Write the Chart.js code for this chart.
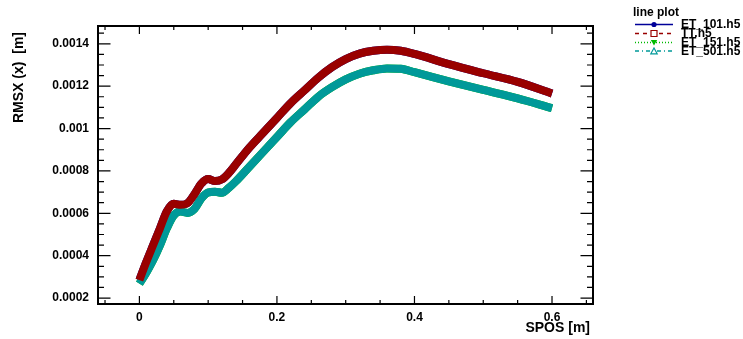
<!DOCTYPE html>
<html>
<head>
<meta charset="utf-8">
<script src="https://cdn.jsdelivr.net/npm/chart.js@4/dist/chart.umd.min.js"></script>
<style>
  html, body { margin: 0; padding: 0; background: #ffffff; }
  #c { display: block; }
</style>
</head>
<body>
<canvas id="c" width="743" height="339"></canvas>
<script>
// ---- data ----
const spos = [0, 0.01, 0.02, 0.03, 0.04, 0.05, 0.06, 0.07, 0.08, 0.09, 0.10, 0.11, 0.12, 0.13, 0.14,
  0.16, 0.18, 0.20, 0.22, 0.24, 0.26, 0.28, 0.30, 0.32, 0.34, 0.36, 0.38, 0.40, 0.45, 0.50, 0.55, 0.60];

const et101 = [0.000285, 0.00037, 0.00045, 0.00053, 0.00061, 0.000645, 0.00064, 0.000648, 0.00069, 0.00074,
  0.000762, 0.000752, 0.00076, 0.00079, 0.00083, 0.00091, 0.00098, 0.00105, 0.00112, 0.00118, 0.00124,
  0.00129, 0.001328, 0.001354, 0.001367, 0.001372, 0.001367, 0.001352, 0.001304, 0.001261, 0.00122, 0.001165];

const tt = [0.000285, 0.00037, 0.00045, 0.00053, 0.00061, 0.000645, 0.00064, 0.000648, 0.00069, 0.00074,
  0.000762, 0.000752, 0.00076, 0.00079, 0.00083, 0.00091, 0.00098, 0.00105, 0.00112, 0.00118, 0.00124,
  0.00129, 0.001328, 0.001354, 0.001367, 0.001372, 0.001367, 0.001352, 0.001304, 0.001261, 0.00122, 0.001165];

const et151 = [0.000268, 0.00032, 0.00038, 0.00045, 0.00053, 0.00059, 0.000608, 0.000602, 0.00062, 0.00067,
  0.000698, 0.000702, 0.000697, 0.00072, 0.00075, 0.00082, 0.00089, 0.00096, 0.00103, 0.00109, 0.00115,
  0.001195, 0.001232, 0.001259, 0.001275, 0.001284, 0.001282, 0.001266, 0.001223, 0.001182, 0.001142, 0.001096];

const et501 = [0.000268, 0.00032, 0.00038, 0.00045, 0.00053, 0.00059, 0.000608, 0.000602, 0.00062, 0.00067,
  0.000698, 0.000702, 0.000697, 0.00072, 0.00075, 0.00082, 0.00089, 0.00096, 0.00103, 0.00109, 0.00115,
  0.001195, 0.001232, 0.001259, 0.001275, 0.001284, 0.001282, 0.001266, 0.001223, 0.001182, 0.001142, 0.001096];

const seriesNames = ['ET_101.h5', 'TT.h5', 'ET_151.h5', 'ET_501.h5'];
const xTickValues = [0, 0.2, 0.4, 0.6];
const xTickLabels = ['0', '0.2', '0.4', '0.6'];
const yTickValues = [0.0002, 0.0004, 0.0006, 0.0008, 0.001, 0.0012, 0.0014];
const yTickLabels = ['0.0002', '0.0004', '0.0006', '0.0008', '0.001', '0.0012', '0.0014'];
const xTitle = 'SPOS [m]';
const yTitle = 'RMSX (x)  [m]';
const legendTitle = 'line plot';

// ---- styles ----
const FONT = '"Liberation Sans", Arial, Helvetica, sans-serif';
const styles = [
  { color: '#000099', dash: [], marker: 'circleFilled', order: 1 },
  { color: '#990000', dash: [4, 4], marker: 'squareOpen', order: 0 },
  { color: '#00bb00', dash: [1, 2], marker: 'triDownFilled', order: 1 },
  { color: '#009999', dash: [4, 3, 1, 3], marker: 'triUpOpen', order: 0 }
];
const seriesValues = [et101, tt, et151, et501];

const datasets = seriesValues.map((vals, i) => ({
  label: seriesNames[i],
  data: spos.map((x, k) => ({ x: x, y: vals[k] })),
  borderColor: styles[i].color,
  backgroundColor: styles[i].color,
  borderWidth: 8,
  borderCapStyle: 'butt',
  borderJoinStyle: 'round',
  pointRadius: 0,
  cubicInterpolationMode: 'monotone',
  order: styles[i].order,
  fill: false
}));

function drawMarker(ctx, type, x, y, color) {
  ctx.save();
  ctx.setLineDash([]);
  ctx.strokeStyle = color;
  ctx.fillStyle = color;
  ctx.lineWidth = 1.2;
  ctx.beginPath();
  if (type === 'circleFilled') {
    ctx.arc(x, y, 2.6, 0, Math.PI * 2);
    ctx.fill();
  } else if (type === 'squareOpen') {
    ctx.fillStyle = '#ffffff';
    ctx.rect(x - 3, y - 3, 6, 6);
    ctx.fill();
    ctx.stroke();
  } else if (type === 'triDownFilled') {
    ctx.moveTo(x - 3.2, y - 2.5);
    ctx.lineTo(x + 3.2, y - 2.5);
    ctx.lineTo(x, y + 3);
    ctx.closePath();
    ctx.fill();
  } else if (type === 'triUpOpen') {
    ctx.fillStyle = '#ffffff';
    ctx.moveTo(x - 3.2, y + 2.8);
    ctx.lineTo(x + 3.2, y + 2.8);
    ctx.lineTo(x, y - 3);
    ctx.closePath();
    ctx.fill();
    ctx.stroke();
  }
  ctx.restore();
}

const framePlugin = {
  id: 'rootFrame',
  afterDraw(chart) {
    const ctx = chart.ctx;
    const a = chart.chartArea;
    const xs = chart.scales.x, ys = chart.scales.y;
    ctx.save();
    ctx.strokeStyle = '#000000';
    ctx.setLineDash([]);

    // ticks (inward, mirrored)
    ctx.lineWidth = 1.2;
    ctx.beginPath();
    for (let r = -1; r * 0.05 <= xs.max + 1e-9; r++) {
      const val = r * 0.05;
      if (val < xs.min) continue;
      const px = xs.getPixelForValue(val);
      const major = (((r % 4) + 4) % 4 === 0);
      const len = major ? 8 : 4;
      ctx.moveTo(px, a.bottom); ctx.lineTo(px, a.bottom - len);
      ctx.moveTo(px, a.top); ctx.lineTo(px, a.top + len);
    }
    for (let k = 3; k * 0.00005 <= ys.max; k++) {
      const val = k * 0.00005;
      if (val < ys.min) continue;
      const py = ys.getPixelForValue(val);
      const major = (k % 4 === 0);
      const len = major ? 12.5 : 6;
      ctx.moveTo(a.left, py); ctx.lineTo(a.left + len, py);
      ctx.moveTo(a.right, py); ctx.lineTo(a.right - len, py);
    }
    ctx.stroke();

    // frame
    ctx.lineWidth = 2;
    ctx.strokeRect(a.left, a.top, a.right - a.left, a.bottom - a.top);

    // axis titles
    ctx.fillStyle = '#000000';
    ctx.font = 'bold 14px ' + FONT;
    ctx.textAlign = 'right';
    ctx.textBaseline = 'alphabetic';
    ctx.fillText(xTitle, 590, 332);

    ctx.save();
    ctx.translate(23, 32);
    ctx.rotate(-Math.PI / 2);
    ctx.textAlign = 'right';
    ctx.textBaseline = 'alphabetic';
    ctx.fillText(yTitle, 0, 0);
    ctx.restore();

    // legend
    ctx.font = 'bold 12px ' + FONT;
    ctx.textAlign = 'left';
    ctx.textBaseline = 'middle';
    ctx.fillText(legendTitle, 633, 13);
    const rows = [24.5, 33.5, 42.5, 51];
    seriesNames.forEach((name, i) => {
      const y = rows[i];
      ctx.save();
      ctx.strokeStyle = styles[i].color;
      ctx.lineWidth = 1.5;
      ctx.setLineDash(styles[i].dash);
      ctx.beginPath();
      ctx.moveTo(635, y); ctx.lineTo(673, y);
      ctx.stroke();
      ctx.restore();
      drawMarker(ctx, styles[i].marker, 654, y, styles[i].color);
      ctx.fillStyle = '#000000';
      ctx.fillText(name, 681, y + 0.5);
    });
    ctx.restore();
  }
};

Chart.defaults.font.family = FONT;

new Chart(document.getElementById('c'), {
  type: 'line',
  data: { datasets: datasets },
  options: {
    responsive: false,
    animation: false,
    devicePixelRatio: 1,
    layout: { padding: { left: 0, right: 150, top: 26, bottom: 0 } },
    plugins: { legend: { display: false }, tooltip: { enabled: false } },
    scales: {
      x: {
        type: 'linear',
        min: -0.0602,
        max: 0.6596,
        grid: { display: false, drawTicks: false },
        border: { display: false },
        afterFit: s => { s.height = 35; },
        afterBuildTicks: s => { s.ticks = xTickValues.map(v => ({ value: v })); },
        ticks: {
          padding: 6,
          color: '#000000',
          font: { family: FONT, size: 12, weight: 'bold' },
          maxRotation: 0,
          autoSkip: false,
          callback: (v, i) => xTickLabels[i]
        }
      },
      y: {
        type: 'linear',
        min: 0.000172,
        max: 0.001484,
        grid: { display: false, drawTicks: false },
        border: { display: false },
        afterFit: s => { s.width = 98; },
        afterBuildTicks: s => { s.ticks = yTickValues.map(v => ({ value: v })); },
        ticks: {
          padding: 9,
          color: '#000000',
          font: { family: FONT, size: 12, weight: 'bold' },
          autoSkip: false,
          callback: (v, i) => yTickLabels[i]
        }
      }
    }
  },
  plugins: [framePlugin]
});
</script>
</body>
</html>
